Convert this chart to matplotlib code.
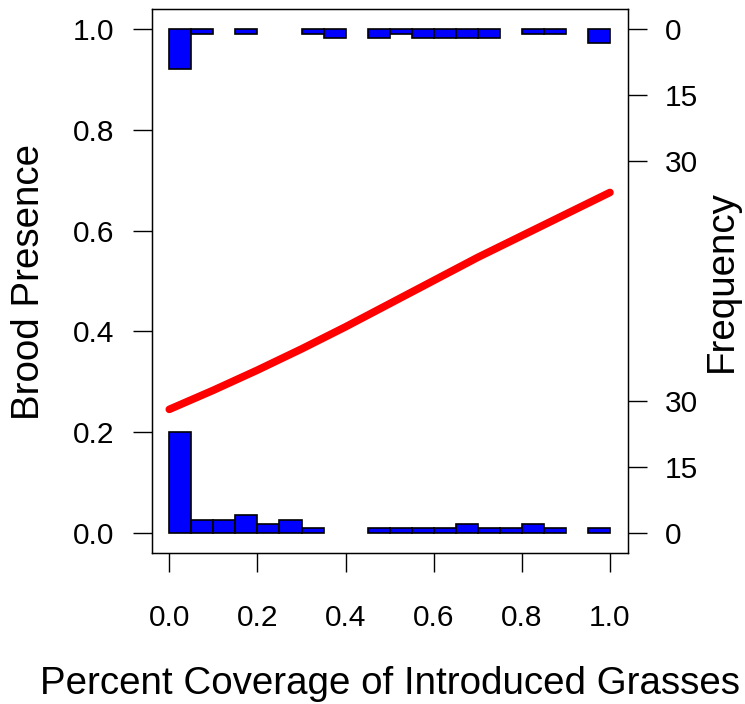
import numpy as np
import matplotlib
matplotlib.use('Agg')
import matplotlib.pyplot as plt

plt.rcParams['font.family'] = ['Liberation Sans', 'DejaVu Sans']

# histogram bins (width 0.05) of coverage, split by brood presence
bin_left = np.arange(0, 1.0, 0.05)
counts_absent = [23, 3, 3, 4, 2, 3, 1, 0, 0, 1, 1, 1, 1, 2, 1, 1, 2, 1, 0, 1]
counts_present = [9, 1, 0, 1, 0, 0, 1, 2, 0, 2, 1, 2, 2, 2, 2, 0, 1, 1, 0, 3]

# fitted probability
fit_x = [0.0, 0.1, 0.2, 0.3, 0.4, 0.5, 0.6, 0.7, 0.8, 0.9, 1.0]
fit_p = [0.245, 0.283, 0.323, 0.365, 0.409, 0.455, 0.501, 0.547, 0.590, 0.633, 0.676]

freq_ticks = [0, 15, 30]

scale = 0.2 / max(max(counts_absent), max(counts_present))

fig = plt.figure(figsize=(7.45, 7.04), dpi=100)
ax = fig.add_axes([0.2036, 0.2148, 0.8424 - 0.2036, 0.9868 - 0.2148])

for x0, c in zip(bin_left, counts_absent):
    if c > 0:
        ax.bar(x0, c * scale, width=0.05, bottom=0, align='edge',
               color='blue', edgecolor='black', linewidth=1.2, zorder=2)
for x0, c in zip(bin_left, counts_present):
    if c > 0:
        ax.bar(x0, c * scale, width=0.05, bottom=1 - c * scale, align='edge',
               color='blue', edgecolor='black', linewidth=1.2, zorder=2)

ax.plot(fit_x, fit_p, color='red', linewidth=5.5, solid_capstyle='round', zorder=3)

ax.set_xlim(-0.04, 1.04)
ax.set_ylim(-0.04, 1.04)
ax.set_xticks(np.arange(0, 1.01, 0.2))
ax.set_xticklabels(['0.0', '0.2', '0.4', '0.6', '0.8', '1.0'])
ax.set_yticks(np.arange(0, 1.01, 0.2))
ax.set_yticklabels(['0.0', '0.2', '0.4', '0.6', '0.8', '1.0'])
ax.tick_params(axis='both', labelsize=21.5, length=13.7, width=1.0, direction='out')
ax.tick_params(axis='x', pad=23)
ax.tick_params(axis='y', pad=13)
for s in ax.spines.values():
    s.set_linewidth(1.0)

ax2 = ax.twinx()
ax2.set_ylim(-0.04, 1.04)
pos = [f * scale for f in freq_ticks] + [1 - f * scale for f in freq_ticks]
labs = [str(f) for f in freq_ticks] * 2
ax2.set_yticks(pos)
ax2.set_yticklabels(labs)
ax2.tick_params(axis='y', labelsize=21.5, length=13.7, width=1.0, pad=13)

fig.text(0.5229, 1 - 684 / 704, 'Percent Coverage of Introduced Grasses',
         fontsize=27.7, ha='center', va='center')
fig.text(29 / 745, 1 - 282 / 704, 'Brood Presence', fontsize=27.7,
         rotation=90, ha='center', va='center')
fig.text(722 / 745, 1 - 281 / 704, 'Frequency', fontsize=27.7,
         rotation=90, ha='center', va='center')

fig.savefig('out.png', dpi=100)
